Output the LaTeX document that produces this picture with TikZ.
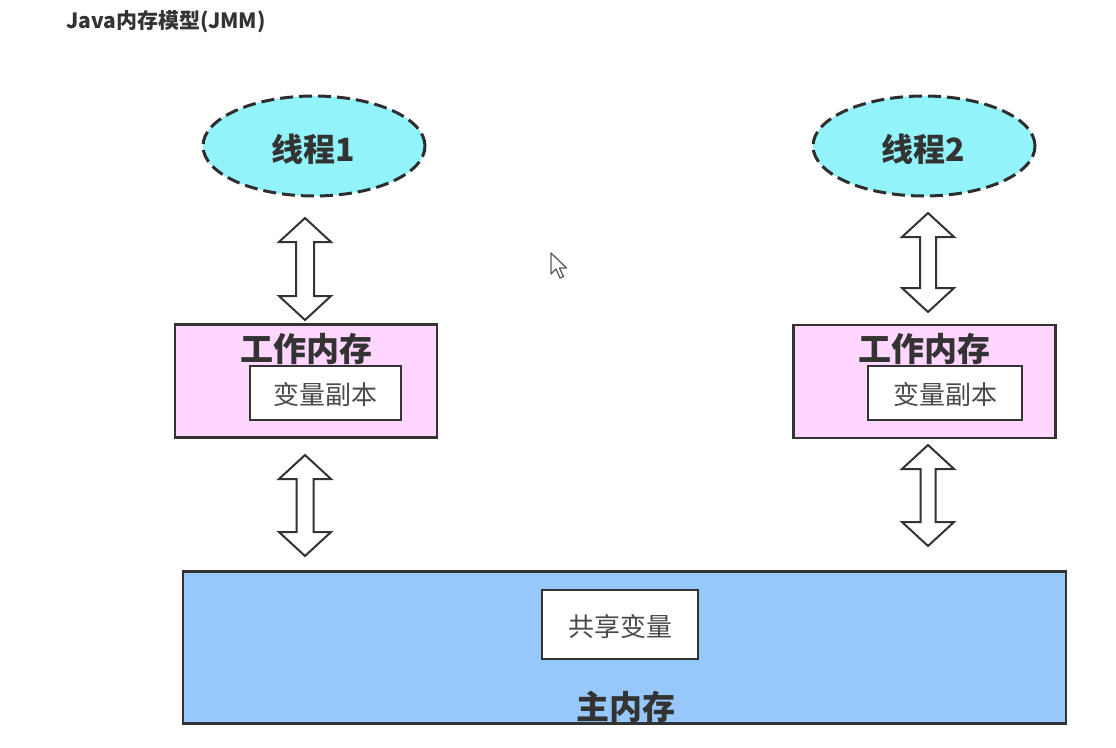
\documentclass[tikz,border=0pt]{standalone}
\usepackage{fontspec}
\setmainfont{Noto Sans CJK SC}
\usetikzlibrary{shapes.geometric,calc}
\definecolor{threadfill}{HTML}{92F4FA}
\definecolor{wmfill}{HTML}{FFD6FF}
\definecolor{mmfill}{HTML}{96C8FC}
\definecolor{edge}{HTML}{333333}
\definecolor{txt}{HTML}{333333}
\definecolor{txtlight}{HTML}{4A4A4A}
\tikzset{
  thread/.style={ellipse,draw=edge!90!black,fill=threadfill,line width=3pt,
    dash pattern=on 13pt off 6pt,minimum width=222pt,minimum height=100pt,inner sep=0pt},
  threadtext/.style={text=txt,font=\fontsize{32}{35}\selectfont\bfseries,inner sep=0pt},
  wmbox/.style={draw=edge,fill=wmfill,line width=2.2pt,minimum width=262pt,minimum height=113pt,inner sep=0pt},
  wmtext/.style={text=txt,font=\fontsize{33}{36}\selectfont\bfseries,inner sep=0pt},
  varbox/.style={draw=edge,fill=white,line width=2.2pt,inner sep=0pt},
  vartext/.style={text=txtlight,font=\fontsize{26}{29}\selectfont,inner sep=0pt},
  mmbox/.style={draw=edge,fill=mmfill,line width=2.4pt,minimum width=883pt,minimum height=152pt,inner sep=0pt},
  mmtext/.style={text=txt,font=\fontsize{33}{36}\selectfont\bfseries,inner sep=0pt},
  blockarrow/.style={draw=edge,fill=white,line width=2pt,line join=miter},
  titletext/.style={text=txt,font=\fontsize{21}{24}\selectfont\bfseries,inner sep=0pt,anchor=west},
}
% #1 top tip, #2 bottom tip, #3 shaft half width
\newcommand\blockarr[3]{%
  \draw[blockarrow] let \p1=(#1), \p2=(#2) in
    (\x1,\y1) -- (\x1+26pt,\y1-24pt) -- (\x1+#3,\y1-24pt) -- (\x1+#3,\y2+24pt)
    -- (\x1+26pt,\y2+24pt) -- (\x2,\y2) -- (\x1-26pt,\y2+24pt) -- (\x1-#3,\y2+24pt)
    -- (\x1-#3,\y1-24pt) -- (\x1-26pt,\y1-24pt) -- cycle;}
\begin{document}
\begin{tikzpicture}[x=1pt,y=-1pt]
\useasboundingbox[fill=white] (0,0) rectangle (1116,747);
% title
\node[titletext] (title) at (66,22) {Java内存模型(JMM)};
% threads
\node[thread] (t1) at (314,146) {};
\node[threadtext] (t1l) at (313,149) {线程1};
\node[thread] (t2) at (924,146) {};
\node[threadtext] (t2l) at (923,149) {线程2};
% working memories
\node[wmbox] (wm1) at (306,381) {};
\node[wmtext] (wm1l) at (306,349) {工作内存};
\node[varbox,minimum width=151pt,minimum height=54pt] (v1) at (325.5,393) {};
\node[vartext] (v1l) at (325.5,395) {变量副本};
\node[wmbox] (wm2) at (924.5,381.5) {};
\node[wmtext] (wm2l) at (924,349) {工作内存};
\node[varbox,minimum width=154pt,minimum height=54pt] (v2) at (945,393) {};
\node[vartext] (v2l) at (945,395) {变量副本};
% main memory
\node[mmbox] (mm) at (624.5,647.5) {};
\node[varbox,minimum width=156pt,minimum height=69pt] (sv) at (620,624.5) {};
\node[vartext] (svl) at (620,627) {共享变量};
\node[mmtext] (mml) at (626,707) {主内存};
% arrow end points
\coordinate (a1t) at (305,218);
\coordinate (a1b) at (305,320);
\coordinate (a2t) at (928,213);
\coordinate (a2b) at (928,312);
\coordinate (a3t) at (305,455);
\coordinate (a3b) at (305,556);
\coordinate (a4t) at (928,445);
\coordinate (a4b) at (928,546);
\blockarr{a1t}{a1b}{9pt}
\blockarr{a2t}{a2b}{8pt}
\blockarr{a3t}{a3b}{8.5pt}
\blockarr{a4t}{a4b}{7.5pt}
% mouse cursor
\coordinate (cur) at (551,253);
\draw[draw=edge!80,fill=white,line width=1.3pt,line join=round]
  (cur) -- ++(0,21) -- ++(5,-5) -- ++(4,9) -- ++(3.5,-1.5) -- ++(-4,-8.5) -- ++(7,0) -- cycle;
\end{tikzpicture}
\end{document}
